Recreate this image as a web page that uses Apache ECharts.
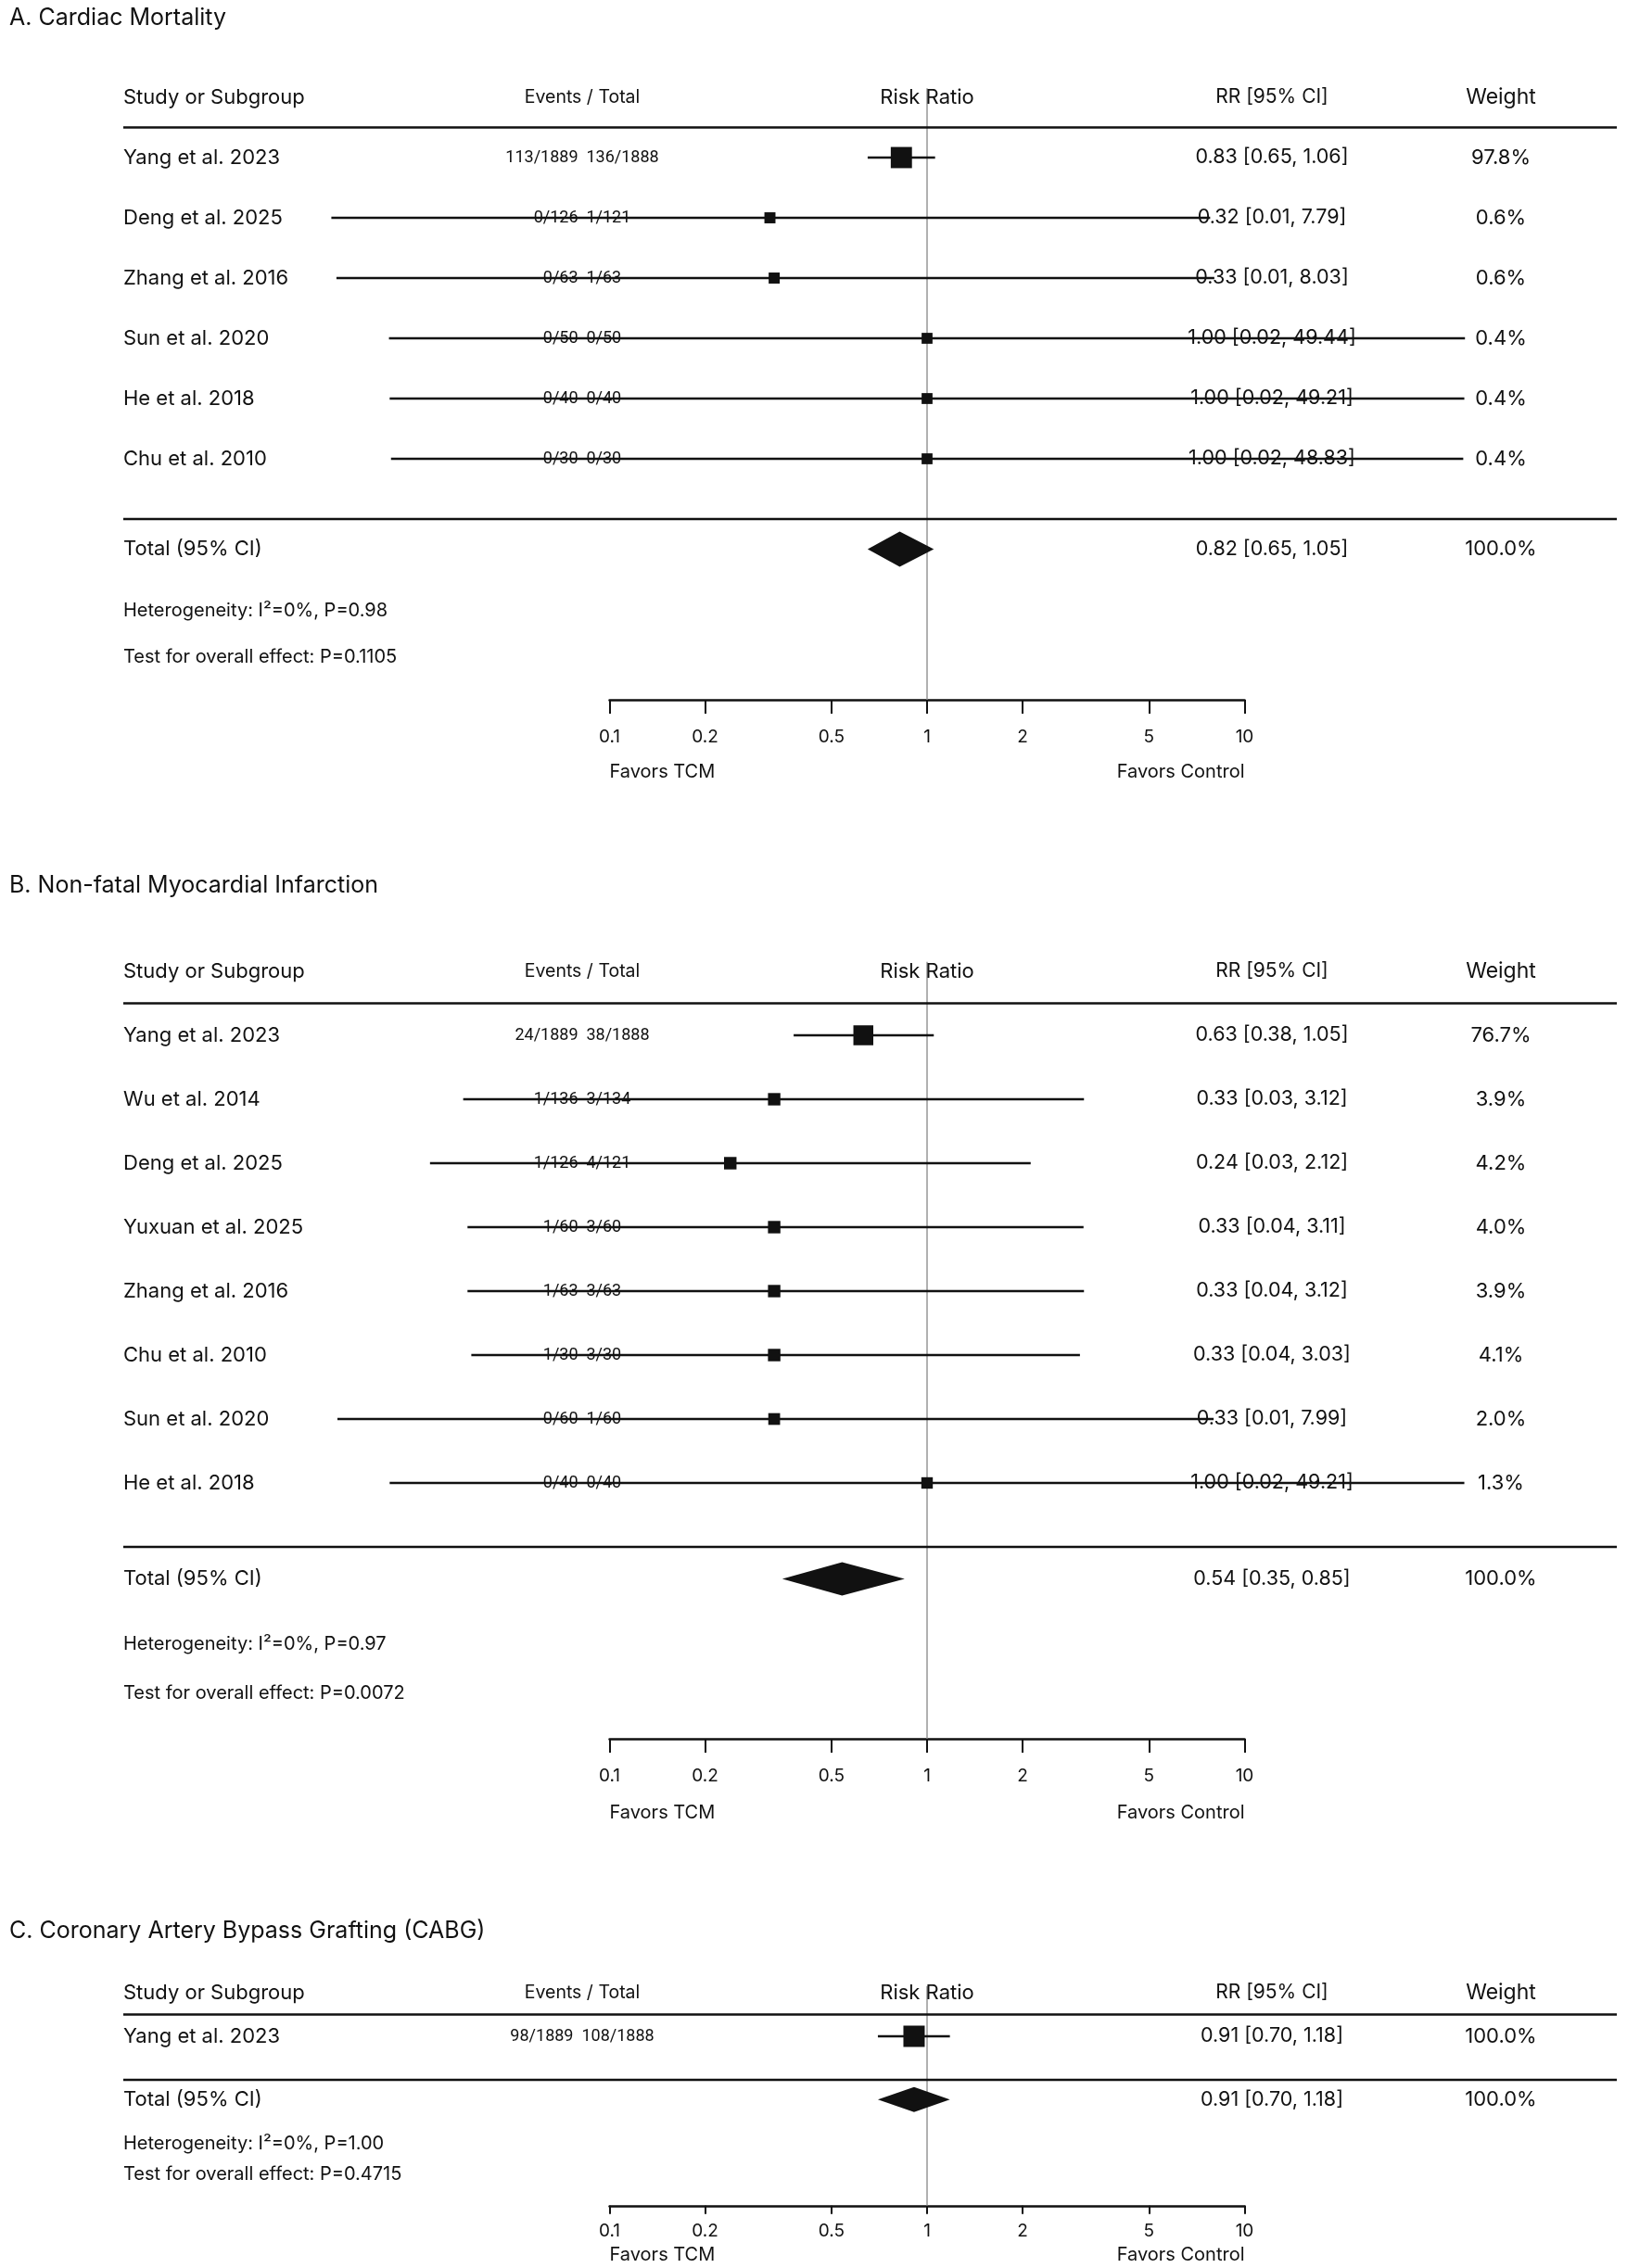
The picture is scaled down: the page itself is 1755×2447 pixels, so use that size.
<!DOCTYPE html>
<html><head><meta charset="utf-8">
<script src="https://cdn.jsdelivr.net/npm/echarts@6/dist/echarts.min.js"></script>
<style>html,body{margin:0;padding:0;background:#fff}#c{width:1755px;height:2447px}</style>
</head><body><div id="c"></div>
<script>
// ================= DATA =================
const titles = ["A. Cardiac Mortality", "B. Non-fatal Myocardial Infarction", "C. Coronary Artery Bypass Grafting (CABG)"];
const headers = ["Study or Subgroup", "Events / Total", "Risk Ratio", "RR [95% CI]", "Weight"];
const favorLabels = ["Favors TCM", "Favors Control"];
const tickValues = [0.1, 0.2, 0.5, 1, 2, 5, 10];
const tickLabels = ["0.1", "0.2", "0.5", "1", "2", "5", "10"];

// Panel A
const studiesA = ["Yang et al. 2023", "Deng et al. 2025", "Zhang et al. 2016", "Sun et al. 2020", "He et al. 2018", "Chu et al. 2010"];
const eventsA = ["113/1889  136/1888", "0/126  1/121", "0/63  1/63", "0/50  0/50", "0/40  0/40", "0/30  0/30"];
const rrA = [0.83, 0.32, 0.33, 1.00, 1.00, 1.00];
const lowerA = [0.65, 0.0133, 0.0138, 0.0202, 0.0203, 0.0205];
const upperA = [1.06, 7.79, 8.03, 49.44, 49.21, 48.83];
const weightA = [97.8, 0.6, 0.6, 0.4, 0.4, 0.4];
const totalA = [0.82, 0.65, 1.05];
const hetA = "Heterogeneity: I\u00B2=0%, P=0.98";
const testA = "Test for overall effect: P=0.1105";

// Panel B
const studiesB = ["Yang et al. 2023", "Wu et al. 2014", "Deng et al. 2025", "Yuxuan et al. 2025", "Zhang et al. 2016", "Chu et al. 2010", "Sun et al. 2020", "He et al. 2018"];
const eventsB = ["24/1889  38/1888", "1/136  3/134", "1/126  4/121", "1/60  3/60", "1/63  3/63", "1/30  3/30", "0/60  1/60", "0/40  0/40"];
const rrB = [0.63, 0.33, 0.24, 0.33, 0.33, 0.33, 0.33, 1.00];
const lowerB = [0.38, 0.0346, 0.0272, 0.0357, 0.0357, 0.0367, 0.0139, 0.0203];
const upperB = [1.05, 3.12, 2.12, 3.11, 3.12, 3.03, 7.99, 49.21];
const weightB = [76.7, 3.9, 4.2, 4.0, 3.9, 4.1, 2.0, 1.3];
const totalB = [0.54, 0.35, 0.85];
const hetB = "Heterogeneity: I\u00B2=0%, P=0.97";
const testB = "Test for overall effect: P=0.0072";

// Panel C
const studiesC = ["Yang et al. 2023"];
const eventsC = ["98/1889  108/1888"];
const rrC = [0.91];
const lowerC = [0.70];
const upperC = [1.18];
const weightC = [100.0];
const totalC = [0.91, 0.70, 1.18];
const hetC = "Heterogeneity: I\u00B2=0%, P=1.00";
const testC = "Test for overall effect: P=0.4715";

// ================= LAYOUT / STYLE =================
const FONT = "Inter, 'Noto Sans', sans-serif";
const NUMFONT = "Roboto, Inter, sans-serif";
const INK = "#111111";
const COL = { study: 133, events: 628, rr: 1372, weight: 1619, right: 1744 };
const PLOT_LEFT = 315, PLOT_RIGHT = 1685;     // log 0.01 .. 100
const AXIS_LEFT = 657.5, AXIS_RIGHT = 1342.5; // log 0.1 .. 10
const W = 1755;

const panels = [
  { title: titles[0], studies: studiesA, events: eventsA, rr: rrA, lo: lowerA, hi: upperA, w: weightA, total: totalA, het: hetA, test: testA,
    L: { top: 105, unit: 65, totalOff: 1.5, hetOff: 2.52, testOff: 3.29, axisOff: 4.0, tickLen: 15, labelMargin: 31, favorsDy: 78, diamondH: 38, titleY: 19 } },
  { title: titles[1], studies: studiesB, events: eventsB, rr: rrB, lo: lowerB, hi: upperB, w: weightB, total: totalB, het: hetB, test: testB,
    L: { top: 1048, unit: 69, totalOff: 1.5, hetOff: 2.52, testOff: 3.29, axisOff: 4.0, tickLen: 15, labelMargin: 31, favorsDy: 80, diamondH: 36, titleY: 955 } },
  { title: titles[2], studies: studiesC, events: eventsC, rr: rrC, lo: lowerC, hi: upperC, w: weightC, total: totalC, het: hetC, test: testC,
    L: { top: 2150, unit: 47, totalOff: 1.45, hetOff: 2.47, testOff: 3.17, axisOff: 3.89, tickLen: 9, labelMargin: 18, favorsDy: 53, diamondH: 27, titleY: 2083 } }
];

function txt(s, x, y, size, align, family) {
  return { type: 'text', style: { text: s, x: x, y: y, fill: INK, fontSize: size, fontFamily: family || FONT, align: align || 'left', verticalAlign: 'middle' } };
}
function hline(x1, x2, y, w, c) {
  return { type: 'line', shape: { x1: x1, y1: y, x2: x2, y2: y }, style: { stroke: c || INK, lineWidth: w } };
}
function fmtCI(r, l, h) { return r.toFixed(2) + ' [' + l.toFixed(2) + ', ' + h.toFixed(2) + ']'; }

const grid = [], xAxis = [], yAxis = [], series = [];

panels.forEach(function (P, p) {
  const L = P.L, n = P.studies.length;
  const axisRow = n + L.axisOff;
  const axisY = L.top + axisRow * L.unit;
  // plot grid (row units on y, log risk ratio on x)
  grid.push({ left: PLOT_LEFT, right: W - PLOT_RIGHT, top: L.top, height: axisRow * L.unit, containLabel: false });
  xAxis.push({ gridIndex: 2 * p, type: 'log', logBase: 10, min: 0.01, max: 100, show: false });
  yAxis.push({ gridIndex: 2 * p, type: 'value', min: 0, max: axisRow, inverse: true, show: false });
  // visible tick axis 0.1 .. 10
  grid.push({ left: AXIS_LEFT, right: W - AXIS_RIGHT, top: axisY - 1, height: 1, containLabel: false });
  xAxis.push({
    gridIndex: 2 * p + 1, type: 'log', logBase: 10, min: 0.1, max: 10, position: 'bottom',
    axisLine: { show: true, lineStyle: { color: INK, width: 2.5 } },
    axisTick: { show: true, customValues: tickValues, length: L.tickLen, inside: false, lineStyle: { color: INK, width: 2 } },
    minorTick: { show: false },
    splitLine: { show: false },
    axisLabel: {
      show: true, customValues: tickValues, margin: L.labelMargin, fontSize: 19, fontFamily: FONT, color: INK,
      formatter: function (v) {
        let best = 0;
        tickValues.forEach(function (t, k) { if (Math.abs(Math.log10(t) - Math.log10(v)) < Math.abs(Math.log10(tickValues[best]) - Math.log10(v))) best = k; });
        return tickLabels[best];
      }
    }
  });
  yAxis.push({ gridIndex: 2 * p + 1, type: 'value', show: false, min: 0, max: 1 });

  // table frame, headers, footnotes, reference line at RR = 1
  series.push({
    type: 'custom', xAxisIndex: 2 * p, yAxisIndex: 2 * p, z: 1, silent: true,
    data: [[1, 0]],
    renderItem: function (params, api) {
      const yAt = function (r) { return api.coord([1, r])[1]; };
      const x1 = api.coord([1, 0])[0];
      const x01 = api.coord([0.1, 0])[0];
      const x10 = api.coord([10, 0])[0];
      const yH = yAt(0);
      const yAxisLine = yAt(axisRow);
      return {
        type: 'group', children: [
          { type: 'line', shape: { x1: x1, y1: yAt(-0.15), x2: x1, y2: yAxisLine }, style: { stroke: '#8f8f8f', lineWidth: 1.4 } },
          txt(P.title, 10, L.titleY, 25, 'left'),
          txt(headers[0], COL.study, yH, 22, 'left'),
          txt(headers[1], COL.events, yH, 19.5, 'center'),
          txt(headers[2], x1, yH, 22, 'center'),
          txt(headers[3], COL.rr, yH, 21, 'center'),
          txt(headers[4], COL.weight, yH, 23, 'center'),
          hline(COL.study, COL.right, yAt(0.5), 2.5),
          hline(COL.study, COL.right, yAt(n + 1), 2.5),
          txt(P.het, COL.study, yAt(n + L.hetOff), 20, 'left'),
          txt(P.test, COL.study, yAt(n + L.testOff), 20, 'left'),
          txt(favorLabels[0], x01, yAxisLine + L.favorsDy, 20, 'left'),
          txt(favorLabels[1], x10, yAxisLine + L.favorsDy, 20, 'right')
        ]
      };
    }
  });

  // study rows: CI line + weighted square
  series.push({
    type: 'custom', xAxisIndex: 2 * p, yAxisIndex: 2 * p, z: 3, silent: true,
    encode: { x: 0, y: 1 },
    data: P.studies.map(function (s, i) { return [P.rr[i], i + 1, P.lo[i], P.hi[i], P.w[i], i]; }),
    renderItem: function (params, api) {
      const rr = api.value(0), row = api.value(1), lo = api.value(2), hi = api.value(3), w = api.value(4), i = api.value(5);
      const c = api.coord([rr, row]);
      const y = c[1];
      const xl = api.coord([lo, row])[0], xh = api.coord([hi, row])[0];
      const s = 11 + 12 * Math.sqrt(w / 100);
      return {
        type: 'group', children: [
          txt(P.studies[i], COL.study, y, 22, 'left'),
          txt(P.events[i], COL.events, y, 18, 'center', NUMFONT),
          txt(fmtCI(rr, lo, hi), COL.rr, y, 21.5, 'center'),
          txt(w.toFixed(1) + '%', COL.weight, y, 22, 'center'),
          hline(xl, xh, y, 2.3),
          { type: 'rect', shape: { x: c[0] - s / 2, y: y - s / 2, width: s, height: s }, style: { fill: INK } }
        ]
      };
    }
  });

  // pooled total with diamond
  series.push({
    type: 'custom', xAxisIndex: 2 * p, yAxisIndex: 2 * p, z: 3, silent: true,
    encode: { x: 0, y: 1 },
    data: [[P.total[0], n + L.totalOff, P.total[1], P.total[2]]],
    renderItem: function (params, api) {
      const rr = api.value(0), row = api.value(1), lo = api.value(2), hi = api.value(3);
      const c = api.coord([rr, row]);
      const y = c[1];
      const xl = api.coord([lo, row])[0], xh = api.coord([hi, row])[0];
      const h = L.diamondH / 2;
      return {
        type: 'group', children: [
          txt('Total (95% CI)', COL.study, y, 22, 'left'),
          txt(fmtCI(rr, lo, hi), COL.rr, y, 21.5, 'center'),
          txt('100.0%', COL.weight, y, 22, 'center'),
          { type: 'polygon', shape: { points: [[xl, y], [c[0], y - h], [xh, y], [c[0], y + h]] }, style: { fill: INK } }
        ]
      };
    }
  });
});

const chart = echarts.init(document.getElementById('c'), null, { renderer: 'canvas' });
chart.setOption({
  backgroundColor: '#ffffff',
  animation: false,
  grid: grid, xAxis: xAxis, yAxis: yAxis, series: series
});
</script></body></html>
